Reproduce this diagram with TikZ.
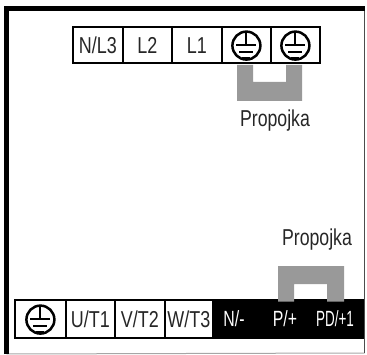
\documentclass[tikz,border=0pt]{standalone}
\usepackage{fontspec}
\setmainfont{Liberation Sans}
\usetikzlibrary{calc}
\definecolor{jumpergray}{gray}{0.6}

\tikzset{
  terminal/.style={draw=black,line width=1.8pt,fill=white,inner sep=0pt,anchor=south west},
  termlabel/.style={font=\fontsize{23}{23}\selectfont,xscale=.78,inner sep=0pt,text=black!85},
  blacklabel/.style={font=\fontsize{22}{22}\selectfont,xscale=.72,inner sep=0pt,text=white},
  jumperlabel/.style={font=\fontsize{23}{23}\selectfont,xscale=.77,inner sep=0pt,text=black!85},
  jumper/.style={fill=jumpergray,draw=none},
  earth/.pic={
    \draw[line width=2.5pt] (0,0) circle[radius=14];
    \draw[line width=2pt] (0,14) -- (0,1);
    \draw[line width=2pt] (-10,1) -- (10,1);
    \draw[line width=2pt] (-7,-6) -- (7,-6);
    \draw[line width=2pt] (-4,-12) -- (4,-12);
  }
}

\begin{document}
\begin{tikzpicture}[x=1pt,y=1pt]
  \useasboundingbox (0,0) rectangle (367,354);

  % outer frame
  \coordinate (f_sw) at (6.5,0);
  \coordinate (f_nw) at (6.5,345.5);
  \coordinate (f_ne) at (364.5,345.5);
  \coordinate (f_se) at (364.5,1);
  \draw[black!35,line width=1pt] (f_sw) -- (f_se);
  \draw[black!70,line width=1.2pt] (f_ne) -- (f_se);
  \draw[black,line width=4.5pt] (f_sw) -- (f_nw) -- (f_ne);

  % upper jumper
  \fill[jumper] (237,289) -- (253,289) -- (253,272) -- (286,272) -- (286,289)
    -- (302,289) -- (302,253) -- (237,253) -- cycle;

  % upper terminals
  \foreach \name/\xa/\wid/\txt in {nl3/72/50/N\slash L3, ltwo/122/49/L2, lone/171/50/L1} {
    \node[terminal,minimum width=\wid,minimum height=36] (\name) at (\xa,290) {};
    \node[termlabel] (\name_txt) at (\name.center) {\txt};
  }
  \foreach \name/\xa in {pe_a/221, pe_b/270} {
    \node[terminal,minimum width=49,minimum height=36] (\name) at (\xa,290) {};
    \pic at ($(\name.center)+(0,-0.5)$) {earth};
  }

  % lower terminals
  \node[terminal,fill=black,minimum width=150,minimum height=38] (blk) at (212,15) {};
  \foreach \name/\xa/\wid/\txt in {ut/65/49/U\slash T1, vt/114/50/V\slash T2, wt/164/48/W\slash T3} {
    \node[terminal,minimum width=\wid,minimum height=38] (\name) at (\xa,15) {};
    \node[termlabel] (\name_txt) at (\name.center) {\txt};
  }
  \node[terminal,minimum width=51,minimum height=38] (pe_c) at (14,15) {};
  \pic at ($(pe_c.center)+(0,-0.5)$) {earth};

  \node[blacklabel] (nm) at (234,35.5) {N\slash -};
  \node[blacklabel] (pp) at (285,35.5) {P\slash +};
  \node[blacklabel,xscale=.85] (pd) at (335,35.5) {PD\slash +1};

  % lower jumper
  \fill[jumper] (278,52.5) -- (294,52.5) -- (294,70) -- (327,70) -- (327,52.5)
    -- (344,52.5) -- (344,88) -- (278,88) -- cycle;

  \node[jumperlabel] (top_lbl) at (275,233) {Propojka};
  \node[jumperlabel] (bot_lbl) at (317,114) {Propojka};
\end{tikzpicture}
\end{document}
